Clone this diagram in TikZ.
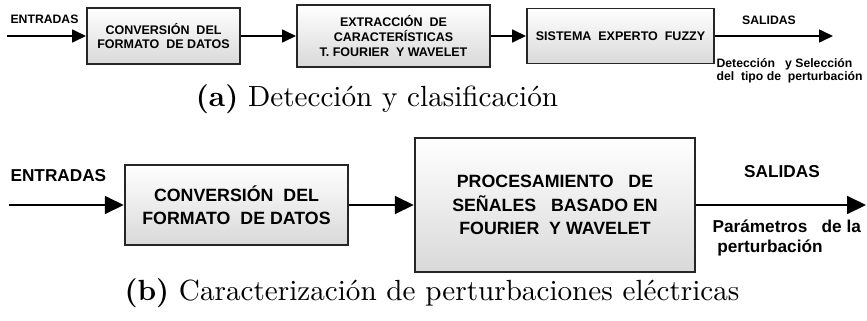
\documentclass[tikz,border=0pt]{standalone}
\usepackage{fontspec}
\newfontfamily\arialf{Liberation Sans}
\usetikzlibrary{positioning,arrows.meta}
\newdimen\px \px=0.36pt

\begin{document}
\begin{tikzpicture}[
  x=0.36pt, y=-0.36pt,
  boxa/.style={draw=black!85,line width=0.7pt,top color=white,bottom color=black!15,
    align=center,inner sep=0pt,font=\arialf\bfseries\fontsize{4.5}{5.3}\selectfont},
  boxb/.style={draw=black!85,line width=0.9pt,top color=white,bottom color=black!15,
    align=center,inner sep=0pt,font=\arialf\bfseries\fontsize{6.4}{8.4}\selectfont},
  labela/.style={inner sep=0pt,font=\arialf\bfseries\fontsize{4.4}{4.8}\selectfont},
  labelb/.style={inner sep=0pt,font=\arialf\bfseries\fontsize{6.2}{7.2}\selectfont},
  tipa/.style={line width=0.7pt,-{Triangle[length=5pt,width=4.6pt]}},
  tipb/.style={line width=0.9pt,-{Triangle[length=6.8pt,width=6.4pt]}},
  capt/.style={font=\fontsize{10.5}{12}\selectfont}
]
\useasboundingbox (0,0) rectangle (867,320);
% (a)
\coordinate (ina) at (7,36);
\node[boxa,minimum width=153\px,minimum height=56\px] (convA) at (163.5,36) {CONVERSIÓN\ \ DEL\\FORMATO\ \ DE DATOS};
\node[boxa,minimum width=193\px,minimum height=62\px] (extrA) at (393.5,36) {EXTRACCIÓN\ \ DE\\CARACTERÍSTICAS\\T. FOURIER\ \ Y WAVELET};
\node[boxa,minimum width=187\px,minimum height=55\px] (fuzzA) at (620.5,36) {SISTEMA\ \ EXPERTO\ \ FUZZY};
\coordinate (outa) at (833,36);
\node[labela,anchor=west] (entA) at (10,19) {ENTRADAS};
\node[labela] (salA) at (769,20) {SALIDAS};
\node[labela,anchor=north west,align=left] (detA) at (716,58) {Detección\ \ \ y Selección\\del\ \ tipo de\ \ perturbación};
\path (ina) edge[tipa] (convA)
(convA) edge[tipa] (extrA)
(extrA) edge[tipa] (fuzzA)
(fuzzA) edge[tipa] (outa);
\node[capt] (capA) at (377,99) {\textbf{(a)} Detección y clasificación};
% (b)
\coordinate (inb) at (9,205);
\node[boxb,minimum width=223\px,minimum height=80\px] (convB) at (236.5,205) {CONVERSIÓN\ \ DEL\\FORMATO\ \ DE DATOS};
\node[boxb,minimum width=280\px,minimum height=134\px] (procB) at (555,205) {PROCESAMIENTO\ \ \ DE\\SEÑALES\ \ \ BASADO\ EN\\FOURIER\ \ Y WAVELET};
\coordinate (outb) at (866,205);
\node[labelb,anchor=west] (entB) at (10,176) {ENTRADAS};
\node[labelb] (salB) at (782,172) {SALIDAS};
\node[labelb,anchor=north west,align=left] (parB) at (712,219) {Parámetros\ \ \ de la\\\ perturbación};
\path (inb) edge[tipb] (convB)
(convB) edge[tipb] (procB)
(procB) edge[tipb] (outb);
\node[capt] (capB) at (432,293) {\textbf{(b)} Caracterización de perturbaciones eléctricas};
\end{tikzpicture}
\end{document}
